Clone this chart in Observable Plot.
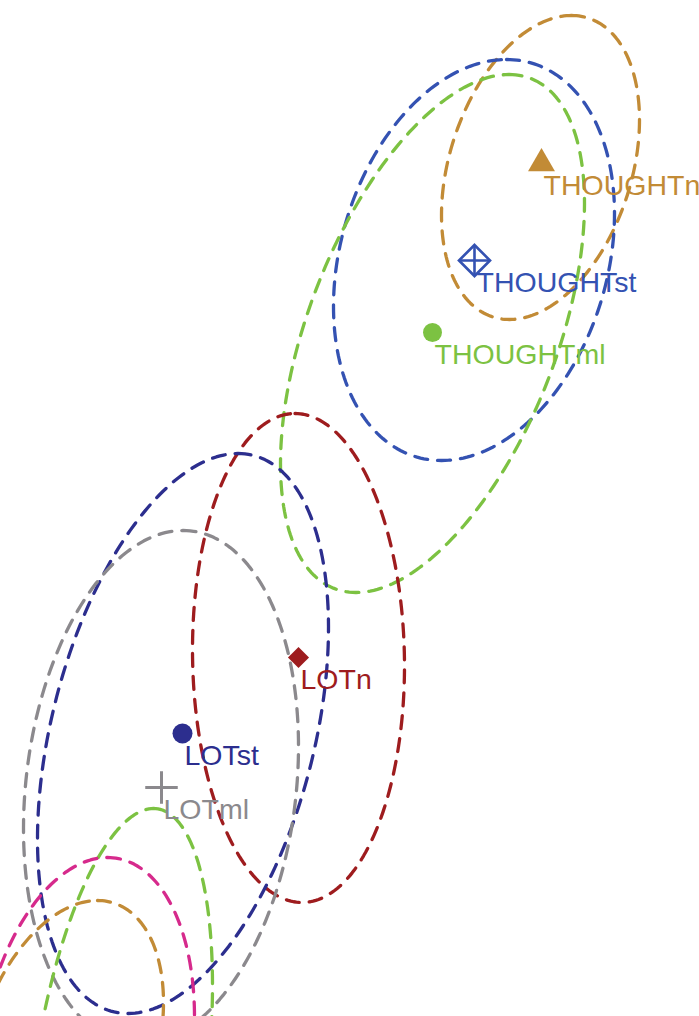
<!DOCTYPE html>
<html>
<head>
<meta charset="utf-8">
<script src="https://cdn.jsdelivr.net/npm/d3@7"></script>
<script src="https://cdn.jsdelivr.net/npm/@observablehq/plot@0.6"></script>
<style>
  html, body { margin: 0; padding: 0; background: #fff; }
  #chart svg { display: block; }
</style>
</head>
<body>
<div id="chart"></div>
<script>
// ---- data (chart coordinates, y grows downward) ----
const groupNames = ["THOUGHTn", "THOUGHTst", "THOUGHTml", "LOTn", "LOTst", "LOTml"];
const groupX = [541, 474, 432, 298, 182, 161];
const groupY = [163, 260, 332, 657, 733, 787];

// confidence ellipses: centre, half extents, horizontal shift of the top vertex
const ellipseNames = ["THOUGHTn", "THOUGHTst", "THOUGHTml", "LOTn", "LOTst", "LOTml", "green2", "magenta2", "orange2"];
const ellipseCX = [540, 473.5, 432, 298, 182.5, 160.5, 118, 85, 66];
const ellipseCY = [167, 259.5, 333, 657.5, 733, 787, 1090, 1057, 1050];
const ellipseHalfWidth = [99, 140.5, 152, 106, 145.5, 137.5, 94, 109, 97];
const ellipseHalfHeight = [152, 200.5, 259, 244.5, 280, 257, 282, 200, 150];
const ellipseTopShift = [31, 32.5, 76.5, -3.5, 55, 22, 35, 22, 31];

// ---- styles ----
const colors = {
  THOUGHTn: "#c28b36", THOUGHTst: "#3452b2", THOUGHTml: "#7cc242",
  LOTn: "#9e1c1e", LOTst: "#2c2e8e", LOTml: "#8b898d",
  green2: "#7cc242", magenta2: "#d62a8c", orange2: "#c28b36"
};

const W = 699, H = 1016;

// ellipse outlines
const ellipseRows = [];
ellipseNames.forEach((name, i) => {
  const cx = ellipseCX[i], cy = ellipseCY[i], hh = ellipseHalfHeight[i];
  const k = ellipseTopShift[i];
  const m = Math.sqrt(ellipseHalfWidth[i] ** 2 - k * k);
  const N = 240;
  for (let j = 0; j <= N; j++) {
    const t = 2 * Math.PI * j / N;
    ellipseRows.push({name, x: cx + k * Math.cos(t) + m * Math.sin(t), y: cy - hh * Math.cos(t)});
  }
});

const pts = groupNames.map((name, i) => ({name, x: groupX[i], y: groupY[i]}));
const pick = n => pts.filter(d => d.name === n);

const chart = Plot.plot({
  width: W,
  height: H,
  margin: 0,
  x: {domain: [0, W], axis: null},
  y: {domain: [H, 0], axis: null},
  style: {fontFamily: "'Liberation Sans', Arial, Helvetica, sans-serif", background: "#fff"},
  marks: [
    Plot.line(ellipseRows, {
      x: "x", y: "y", z: "name",
      stroke: d => colors[d.name],
      strokeWidth: 3.3,
      strokeDasharray: "13,10",
      clip: true
    }),
    Plot.dot(pick("THOUGHTn"), {x: "x", y: "y", symbol: "triangle", r: 10, fill: colors.THOUGHTn}),
    Plot.dot(pick("THOUGHTst"), {x: "x", y: "y", symbol: "diamond2", r: 14, fill: "none", stroke: colors.THOUGHTst, strokeWidth: 2.6}),
    Plot.dot(pick("THOUGHTst"), {x: "x", y: "y", symbol: "plus", r: 10, stroke: colors.THOUGHTst, strokeWidth: 2.6}),
    Plot.dot(pick("THOUGHTml"), {x: "x", y: "y", symbol: "circle", r: 9.5, fill: colors.THOUGHTml}),
    Plot.dot(pick("LOTn"), {x: "x", y: "y", symbol: "diamond2", r: 9.5, fill: colors.LOTn, stroke: "none"}),
    Plot.dot(pick("LOTst"), {x: "x", y: "y", symbol: "circle", r: 10, fill: colors.LOTst}),
    Plot.dot(pick("LOTml"), {x: "x", y: "y", symbol: "plus", r: 10.5, stroke: colors.LOTml, strokeWidth: 3}),
    Plot.text(pts, {
      x: "x", y: "y", text: "name",
      fill: d => colors[d.name],
      textAnchor: "start",
      lineAnchor: "bottom",
      dx: 2, dy: 31,
      fontSize: 28.5
    })
  ]
});

document.getElementById("chart").appendChild(chart);
</script>
</body>
</html>
